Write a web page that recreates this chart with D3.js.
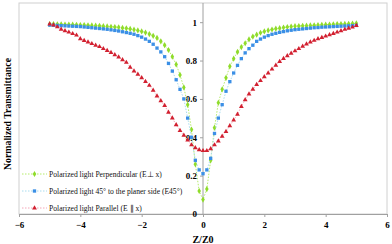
<!DOCTYPE html>
<html><head><meta charset="utf-8">
<script src="https://cdn.jsdelivr.net/npm/d3@7"></script>
<style>body{margin:0;background:#fff}svg{display:block}</style>
</head><body>
<script>
const zValues = [-5,-4.875,-4.75,-4.625,-4.5,-4.375,-4.25,-4.125,-4,-3.875,-3.75,-3.625,-3.5,-3.375,-3.25,-3.125,-3,-2.875,-2.75,-2.625,-2.5,-2.375,-2.25,-2.125,-2,-1.875,-1.75,-1.625,-1.5,-1.375,-1.25,-1.125,-1,-0.875,-0.75,-0.625,-0.5,-0.375,-0.25,-0.125,0,0.125,0.25,0.375,0.5,0.625,0.75,0.875,1,1.125,1.25,1.375,1.5,1.625,1.75,1.875,2,2.125,2.25,2.375,2.5,2.625,2.75,2.875,3,3.125,3.25,3.375,3.5,3.625,3.75,3.875,4,4.125,4.25,4.375,4.5,4.625,4.75,4.875,5];
const perpendicular = [0.99,0.99,0.989,0.989,0.988,0.988,0.987,0.986,0.985,0.985,0.984,0.983,0.982,0.981,0.979,0.978,0.976,0.975,0.973,0.97,0.968,0.965,0.961,0.957,0.952,0.946,0.938,0.929,0.918,0.9,0.88,0.855,0.82,0.78,0.725,0.66,0.57,0.44,0.26,0.12,0.075,0.13,0.28,0.45,0.58,0.65,0.71,0.77,0.81,0.845,0.87,0.89,0.91,0.925,0.935,0.945,0.952,0.957,0.962,0.966,0.969,0.972,0.975,0.977,0.979,0.98,0.981,0.982,0.983,0.984,0.985,0.986,0.987,0.988,0.989,0.99,0.99,0.991,0.992,0.993,0.994];
const deg45 = [0.985,0.984,0.983,0.982,0.981,0.98,0.979,0.978,0.977,0.975,0.973,0.971,0.969,0.967,0.965,0.963,0.96,0.957,0.954,0.95,0.946,0.942,0.937,0.93,0.922,0.912,0.9,0.885,0.865,0.845,0.82,0.785,0.745,0.7,0.65,0.6,0.5,0.4,0.28,0.23,0.21,0.23,0.29,0.42,0.5,0.57,0.64,0.69,0.735,0.775,0.81,0.84,0.862,0.88,0.9,0.912,0.922,0.93,0.937,0.942,0.947,0.951,0.955,0.958,0.961,0.963,0.965,0.967,0.969,0.971,0.972,0.974,0.975,0.976,0.977,0.978,0.979,0.98,0.981,0.982,0.983];
const parallel = [0.99,0.985,0.975,0.963,0.955,0.948,0.94,0.932,0.913,0.904,0.896,0.888,0.879,0.872,0.862,0.852,0.842,0.83,0.818,0.804,0.79,0.765,0.745,0.728,0.71,0.69,0.67,0.645,0.615,0.59,0.565,0.53,0.5,0.465,0.435,0.41,0.385,0.36,0.345,0.335,0.33,0.33,0.34,0.36,0.38,0.405,0.43,0.46,0.49,0.52,0.56,0.595,0.625,0.65,0.675,0.695,0.715,0.735,0.755,0.775,0.795,0.81,0.825,0.838,0.85,0.862,0.874,0.886,0.896,0.905,0.913,0.92,0.927,0.934,0.941,0.948,0.955,0.962,0.968,0.974,0.982];
const seriesNames = ["Polarized light Perpendicular (E\u22a5 x)","Polarized light 45\u00b0 to the planer side (E45\u00b0)","Polarized light Parallel (E \u2225 x)"];
const xTicks = [-6,-4,-2,0,2,4,6];
const yTicks = [0,0.2,0.4,0.6,0.8,1];

const W=392,H=244;
const svg=d3.select("body").append("svg").attr("width",W).attr("height",H);
const x=d3.scaleLinear().domain([-6,6]).range([19,387]);
const y=d3.scaleLinear().domain([0,1.1]).range([214,3]);
const serif='"Liberation Serif","Times New Roman",serif';

svg.append("rect").attr("x",x(-6)).attr("y",y(1.1)).attr("width",x(6)-x(-6)).attr("height",y(0)-y(1.1))
  .attr("fill","none").attr("stroke","#d0d0d0").attr("stroke-width",1);

const xa=svg.append("g").attr("transform",`translate(0,${y(0)})`)
  .call(d3.axisBottom(x).tickValues(xTicks).tickSize(3).tickFormat(d3.format("d")));
xa.select(".domain").attr("stroke","#a0a0a0");
xa.selectAll(".tick line").attr("stroke","#a0a0a0");
xa.selectAll("text").attr("font-family",serif).attr("font-weight","bold").attr("font-size",9).attr("fill","#000").attr("dy","0.85em");

const ya=svg.append("g").attr("transform",`translate(${x(0)},0)`)
  .call(d3.axisLeft(y).tickValues(yTicks).tickSize(3).tickFormat(d=>d===0||d===1?String(d):d3.format(".1f")(d)));
ya.select(".domain").attr("stroke","#a0a0a0").attr("d",`M0,${y(0)}V${y(1.1)}`);
ya.selectAll(".tick line").attr("stroke","#a0a0a0");
ya.selectAll("text").attr("font-family",serif).attr("font-weight","bold").attr("font-size",9).attr("fill","#000").attr("x",-6);

const series=[
  {vals:perpendicular,line:"#b5ec6a",mark:"#8fdc2a",sym:d3.symbolDiamond,size:11},
  {vals:deg45,line:"#a8dcef",mark:"#3b8fe6",sym:d3.symbolSquare,size:11},
  {vals:parallel,line:"#f4a6b8",mark:"#d22030",sym:d3.symbolTriangle,size:10}
];
series.forEach(s=>{
  const pts=zValues.map((z,i)=>[z,s.vals[i]]);
  svg.append("path").datum(pts).attr("fill","none").attr("stroke",s.line).attr("stroke-width",1)
    .attr("stroke-dasharray","1.5,1.5")
    .attr("d",d3.line().x(d=>x(d[0])).y(d=>y(d[1])));
  svg.append("g").selectAll("path").data(pts).join("path")
    .attr("transform",d=>`translate(${x(d[0])},${y(d[1])})`)
    .attr("d",d3.symbol(s.sym,s.size)).attr("fill",s.mark);
});

const lg=svg.append("g");
[174,191,208].forEach((ly,i)=>{
  const s=series[i];
  lg.append("line").attr("x1",22).attr("x2",47).attr("y1",ly).attr("y2",ly)
    .attr("stroke",s.line).attr("stroke-width",1).attr("stroke-dasharray","1.5,1.5");
  lg.append("path").attr("transform",`translate(34.5,${ly})`).attr("d",d3.symbol(s.sym,s.size)).attr("fill",s.mark);
  lg.append("text").attr("x",49).attr("y",ly).attr("dy","0.35em").attr("font-family",serif)
    .attr("font-size",7.6).attr("fill","#111").text(seriesNames[i]);
});

svg.append("text").attr("x",x(0)).attr("y",239).attr("dy","0.35em").attr("text-anchor","middle")
  .attr("font-family",serif).attr("font-weight","bold").attr("font-size",10).text("Z/Z0");
svg.append("text").attr("transform","translate(8,114) rotate(-90)").attr("dy","0.35em").attr("text-anchor","middle")
  .attr("font-family",serif).attr("font-weight","bold").attr("font-size",9.8).text("Normalized Transmittance");
</script>
</body></html>
